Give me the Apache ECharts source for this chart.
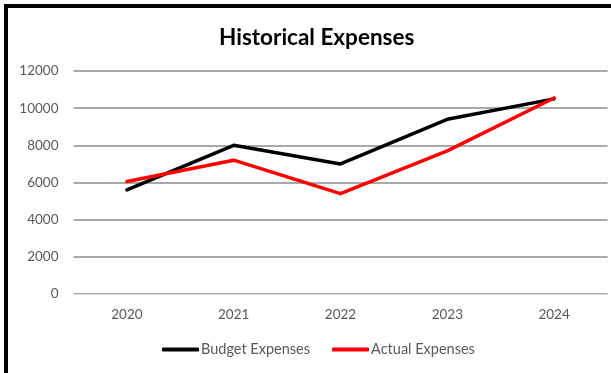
<!DOCTYPE html>
<html>
<head>
<meta charset="utf-8">
<script src="https://cdn.jsdelivr.net/npm/echarts@6/dist/echarts.min.js"></script>
<style>
  html, body { margin: 0; padding: 0; background: #fff; }
  #chart { width: 611px; height: 373px; }
</style>
</head>
<body>
<div id="chart"></div>
<script>
// Yearly expenses: planned budget versus actual spending
const years = ['2020', '2021', '2022', '2023', '2024'];
const budgetExpenses = [5600, 8000, 7000, 9400, 10500];
const actualExpenses = [6050, 7200, 5400, 7700, 10550];
const yTicks = [0, 2000, 4000, 6000, 8000, 10000, 12000];

const font = 'Lato, "Open Sans", sans-serif';
const chart = echarts.init(document.getElementById('chart'), null, { renderer: 'canvas' });

chart.setOption({
  animation: false,
  backgroundColor: '#ffffff',
  title: {
    text: 'Historical Expenses',
    left: 214,
    top: 21,
    textStyle: { fontFamily: font, fontWeight: 'bold', fontSize: 22.5, color: '#000' }
  },
  graphic: [{
    type: 'rect',
    shape: { x: 6, y: 6, width: 700, height: 500 },
    style: { fill: 'none', stroke: '#000', lineWidth: 4 },
    silent: true,
    z: 100
  }],
  legend: {
    bottom: 11,
    left: 157,
    itemWidth: 37,
    itemHeight: 4,
    itemGap: 22,
    icon: 'roundRect',
    textStyle: { fontFamily: font, fontSize: 14.5, color: '#595959', padding: [0, 0, 0, -3] },
    data: ['Budget Expenses', 'Actual Expenses']
  },
  grid: { left: 73.5, right: 3.5, top: 71, bottom: 79 },
  xAxis: {
    type: 'category',
    data: years,
    boundaryGap: true,
    axisLine: { show: true, lineStyle: { color: '#d9d9d9', width: 1 } },
    axisTick: { show: false },
    axisLabel: { fontFamily: font, fontSize: 13.5, color: '#595959', margin: 14 }
  },
  yAxis: {
    type: 'value',
    min: yTicks[0],
    max: yTicks[yTicks.length - 1],
    interval: 2000,
    axisLine: { show: false },
    axisTick: { show: false },
    axisLabel: {
      fontFamily: font, fontSize: 13.5, color: '#595959', margin: 15,
      formatter: (v) => String(v)
    },
    splitLine: { lineStyle: { color: '#8c8c8c', width: 1.5 } }
  },
  series: [
    {
      name: 'Budget Expenses',
      type: 'line',
      data: budgetExpenses,
      showSymbol: false,
      symbol: 'none',
      itemStyle: { color: '#000000' },
      lineStyle: { color: '#000000', width: 3.5, cap: 'round', join: 'round' },
      z: 2
    },
    {
      name: 'Actual Expenses',
      type: 'line',
      data: actualExpenses,
      showSymbol: false,
      symbol: 'none',
      itemStyle: { color: '#ff0000' },
      lineStyle: { color: '#ff0000', width: 3.5, cap: 'round', join: 'round' },
      z: 3
    }
  ]
});
</script>
</body>
</html>
